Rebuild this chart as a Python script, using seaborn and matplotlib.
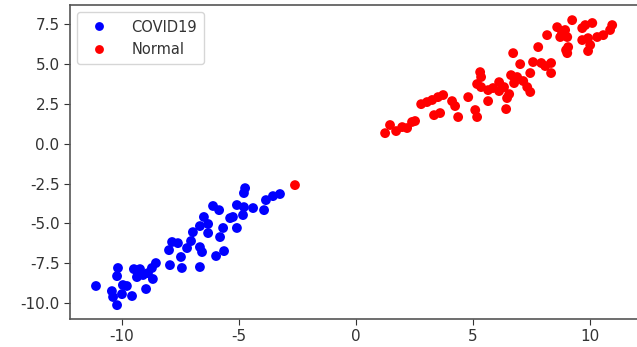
import matplotlib
matplotlib.use("Agg")
import matplotlib.pyplot as plt
import seaborn as sns
import pandas as pd

covid_x = [-11.11, -10.17, -10.21, -10.43, -10.38, -10.21, -10.00, -9.96, -9.79, -9.57,
           -9.49, -9.23, -9.10, -9.36, -8.89, -8.72, -8.55, -8.68, -8.97, -7.95,
           -7.44, -6.67, -7.99, -7.86, -7.61, -7.48, -7.22, -7.05, -6.67, -6.58,
           -6.97, -6.67, -6.50, -6.32, -6.32, -5.98, -5.64, -5.81, -5.68, -5.09,
           -6.11, -5.85, -5.26, -5.09, -4.83, -4.79, -5.38, -4.74, -4.79, -4.40,
           -3.93, -3.85, -3.55, -3.25]
covid_y = [-8.93, -7.80, -8.31, -9.25, -9.62, -10.13, -9.44, -8.87, -8.93, -9.56,
           -7.87, -7.87, -8.24, -8.37, -8.12, -7.80, -7.49, -8.49, -9.12, -7.62,
           -7.80, -7.74, -6.68, -6.17, -6.24, -7.11, -6.55, -6.11, -6.49, -6.80,
           -5.55, -5.17, -4.60, -5.04, -5.61, -7.05, -6.74, -5.86, -5.29, -5.29,
           -3.91, -4.17, -4.60, -3.85, -4.48, -3.98, -4.67, -2.79, -3.10, -4.04,
           -4.17, -3.54, -3.29, -3.16]

normal_x = [-2.61, 1.24, 1.45, 1.71, 1.97, 2.18, 2.39, 2.52, 2.78, 3.03, 3.25,
            3.50, 3.33, 3.59, 3.72, 4.10, 4.23, 4.36, 4.79, 5.09, 5.17,
            5.30, 5.34, 5.17, 5.34, 5.64, 5.64, 5.85, 6.11, 6.11, 6.32,
            6.54, 6.45, 6.62, 6.75, 6.41, 6.71, 7.01, 7.14, 7.31, 7.44,
            7.44, 7.56, 7.78, 7.91, 8.08, 8.33, 8.33, 8.16, 6.88, 8.59,
            8.80, 8.93, 9.02, 8.72, 9.23, 9.06, 9.02, 8.97, 9.66, 9.79,
            10.09, 9.66, 9.91, 9.91, 10.00, 10.30, 10.56, 10.85, 10.94]
normal_y = [-2.60, 0.66, 1.17, 0.79, 1.04, 0.98, 1.36, 1.42, 2.48, 2.61, 2.74,
            2.92, 1.79, 1.92, 3.05, 2.67, 2.36, 1.67, 2.92, 2.11, 1.67,
            4.49, 4.18, 3.74, 3.55, 2.67, 3.36, 3.49, 3.30, 3.86, 3.55,
            3.11, 2.86, 4.30, 3.80, 2.17, 5.68, 4.99, 3.93, 3.55, 3.24,
            4.43, 5.12, 6.06, 5.06, 4.87, 5.06, 4.43, 6.81, 4.18, 7.31,
            7.00, 7.13, 6.69, 6.69, 7.75, 6.06, 5.68, 5.87, 7.25, 7.44,
            7.57, 6.50, 6.62, 5.81, 6.19, 6.69, 6.81, 7.13, 7.44]

labels = ["COVID19", "Normal"]
x_ticks = [-10, -5, 0, 5, 10]
y_ticks = [-10.0, -7.5, -5.0, -2.5, 0.0, 2.5, 5.0, 7.5]

df = pd.DataFrame({
    "x": covid_x + normal_x,
    "y": covid_y + normal_y,
    "cls": [labels[0]] * len(covid_x) + [labels[1]] * len(normal_x),
})

plt.rcParams["font.family"] = ["DejaVu Sans"]
fig = plt.figure(figsize=(6.37, 3.47), dpi=100)
ax = fig.add_axes([70 / 637, 28 / 347, 567 / 637, 314 / 347])

sns.scatterplot(data=df, x="x", y="y", hue="cls",
                palette={"COVID19": "blue", "Normal": "red"},
                s=50, linewidth=0, ax=ax)

ax.set_xlim(-12.22, 12.0)
ax.set_ylim(-11.0, 8.7)
ax.set_xticks(x_ticks)
ax.set_yticks(y_ticks)
ax.set_xticklabels([f"{t}" for t in x_ticks])
ax.set_yticklabels([f"{t:.1f}" for t in y_ticks])
ax.set_xlabel("")
ax.set_ylabel("")
ax.tick_params(labelsize=11, colors="#333333", length=4)
for sp in ax.spines.values():
    sp.set_color("#555555")
    sp.set_linewidth(1.2)
ax.spines["right"].set_visible(False)

leg = ax.legend(loc="upper left", fontsize=10.5, frameon=True, markerscale=0.9,
                borderpad=0.5, handletextpad=1.2)
leg.get_frame().set_edgecolor("#cccccc")
for t in leg.get_texts():
    t.set_color("#333333")

fig.savefig("out.png", dpi=100)
